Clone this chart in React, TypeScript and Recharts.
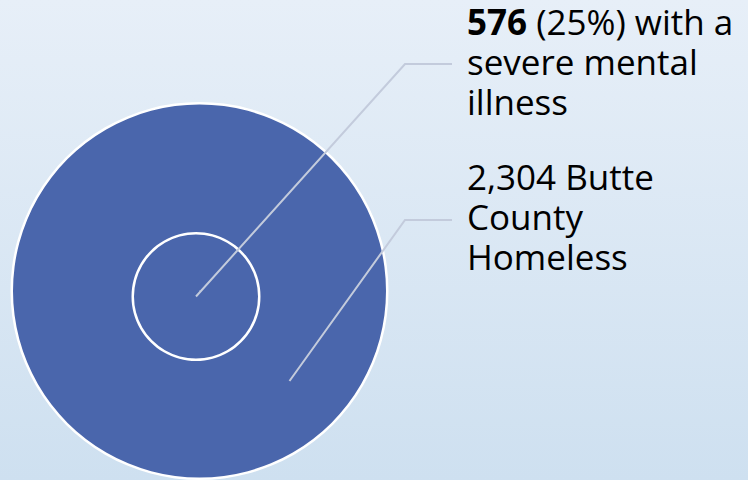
import { PieChart, Pie, Cell } from 'recharts';

const totalLabel = 'Butte County Homeless';
const totalValue = 2304;
const smiLabel = 'with a severe mental illness';
const smiValue = 576;

const totalData = [{ name: totalLabel, value: totalValue }];
const smiData = [{ name: smiLabel, value: smiValue }];

const BLUE = '#4a66ac';
const LEADER = '#c3cbdc';
const FONT = '"Open Sans", "Noto Sans", sans-serif';

function fmt(n: number) {
  return n.toLocaleString('en-US');
}

function SmiLabel(props: any) {
  const { cx, cy, index } = props;
  if (index !== 0) return null;
  const pct = Math.round((smiValue / totalValue) * 100);
  return (
    <g>
      <polyline
        points={`${cx},${cy} 405,64 452,64`}
        fill="none"
        stroke={LEADER}
        strokeWidth={2}
      />
      <text x={467} y={35} fontFamily={FONT} fontSize={35} fill="#000">
        <tspan fontWeight={700}>{fmt(smiValue)}</tspan>
        <tspan> ({pct}%) with a</tspan>
        <tspan x={467} dy={40}>severe mental</tspan>
        <tspan x={467} dy={40}>illness</tspan>
      </text>
    </g>
  );
}

function TotalLabel(props: any) {
  const { cx, cy, index } = props;
  if (index !== 0) return null;
  const sx = cx + 90;
  const sy = cy + 90;
  return (
    <g>
      <polyline
        points={`${sx},${sy} 405,220 452,220`}
        fill="none"
        stroke={LEADER}
        strokeWidth={2}
      />
      <text x={467} y={190} fontFamily={FONT} fontSize={35} fill="#000">
        <tspan>{fmt(totalValue)} Butte</tspan>
        <tspan x={467} dy={40}>County</tspan>
        <tspan x={467} dy={40}>Homeless</tspan>
      </text>
    </g>
  );
}

export default function App() {
  return (
    <div
      style={{
        position: 'fixed',
        left: 0,
        top: 0,
        width: 748,
        height: 480,
        background: 'linear-gradient(to bottom, #e7eff8 0%, #cee0f0 100%)',
      }}
    >
      <PieChart width={748} height={480} margin={{ top: 0, right: 0, bottom: 0, left: 0 }}>
        {/* white outline of the big disc */}
        <Pie
          data={totalData}
          dataKey="value"
          cx={199.5}
          cy={291}
          outerRadius={189}
          startAngle={90}
          endAngle={-270}
          stroke="none"
          isAnimationActive={false}
        >
          <Cell fill="#ffffff" />
        </Pie>
        <Pie
          data={totalData}
          dataKey="value"
          cx={199.5}
          cy={291}
          outerRadius={186.5}
          startAngle={90}
          endAngle={-270}
          stroke="none"
          isAnimationActive={false}
          label={TotalLabel}
          labelLine={false}
        >
          <Cell fill={BLUE} />
        </Pie>
        {/* inner circle: white ring */}
        <Pie
          data={smiData}
          dataKey="value"
          cx={196}
          cy={296.5}
          innerRadius={62}
          outerRadius={64.5}
          startAngle={90}
          endAngle={-270}
          stroke="none"
          isAnimationActive={false}
          label={SmiLabel}
          labelLine={false}
        >
          <Cell fill="#ffffff" />
        </Pie>
      </PieChart>
    </div>
  );
}
